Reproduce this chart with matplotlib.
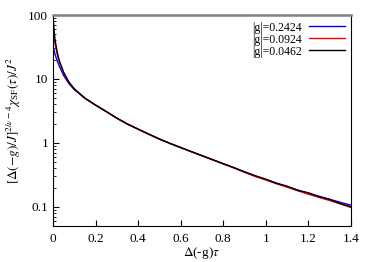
import numpy as np
import matplotlib
matplotlib.use('Agg')
import matplotlib.pyplot as plt

plt.rcParams['font.family'] = ['Liberation Serif', 'DejaVu Serif']
plt.rcParams['mathtext.fontset'] = 'stix'

# tau values, shared by the three curves
tau = [0.0, 0.005, 0.01, 0.02, 0.03, 0.05, 0.075, 0.1, 0.15, 0.2, 0.25, 0.3,
       0.35, 0.4, 0.45, 0.5, 0.55, 0.6, 0.65, 0.7, 0.75, 0.8, 0.85, 0.9, 0.95,
       1.0, 1.05, 1.1, 1.15, 1.2, 1.25, 1.3, 1.35, 1.4]
chi_2424 = [33, 28, 24, 19, 15.8, 11.3, 8.4, 6.8, 4.95, 3.88, 3.08, 2.42,
            1.96, 1.63, 1.36, 1.14, 0.975, 0.84, 0.724, 0.627, 0.543, 0.47,
            0.407, 0.35, 0.302, 0.267, 0.235, 0.207, 0.183, 0.163, 0.146,
            0.131, 0.117, 0.106]
chi_0924 = [62, 45, 35, 24, 18.5, 12.4, 8.8, 6.95, 5.0, 3.9, 3.1, 2.43,
            1.97, 1.64, 1.37, 1.15, 0.98, 0.845, 0.728, 0.628, 0.543, 0.468,
            0.404, 0.346, 0.297, 0.262, 0.229, 0.202, 0.178, 0.157, 0.14,
            0.125, 0.111, 0.097]
chi_0462 = [100, 58, 40, 26, 19, 12.7, 8.9, 7.0, 5.02, 3.9, 3.1, 2.44,
            1.97, 1.64, 1.37, 1.15, 0.98, 0.845, 0.73, 0.632, 0.546, 0.472,
            0.41, 0.352, 0.306, 0.27, 0.232, 0.21, 0.18, 0.165, 0.143,
            0.13, 0.112, 0.1]

fig = plt.figure(figsize=(3.74, 2.62), dpi=100)
ax = fig.add_axes([0.1417, 0.1374, 0.7968, 0.8053])

ax.plot(tau, chi_2424, color='blue', lw=1.0, label='|g|=0.2424')
ax.plot(tau, chi_0924, color='red', lw=1.0, label='|g|=0.0924')
ax.plot(tau, chi_0462, color='black', lw=1.0, label='|g|=0.0462')

ax.set_yscale('log')
ax.set_xlim(0, 1.4)
ax.set_ylim(0.05, 100)
ax.set_xticks([0, 0.2, 0.4, 0.6, 0.8, 1, 1.2, 1.4])
ax.set_xticklabels(['0', '0.2', '0.4', '0.6', '0.8', '1', '1.2', '1.4'])
ax.set_yticks([0.1, 1, 10, 100])
ax.set_yticklabels(['0.1', '1', '10', '100'])
ax.tick_params(direction='in', labelsize=9.5, length=4, top=False, right=False)
ax.tick_params(which='minor', direction='in', length=2, top=False, right=False)
ax.tick_params(axis='x', pad=5)

ax.spines['top'].set_color('gray')
ax.spines['top'].set_linewidth(1.8)

ax.set_xlabel(r'$\Delta$(-g)$\tau$', fontsize=9.5, labelpad=0)
ax.set_ylabel(r'$[\Delta(-g)/J]^{2/\nu-4}\chi_{\rm SF}(\tau)/J^2$', fontsize=9.5, labelpad=4)

ax.legend(loc='upper right', frameon=False, markerfirst=False, fontsize=8.5,
          labelspacing=0.0, handlelength=3.0, handletextpad=0.6,
          borderaxespad=0.15)

fig.savefig('out.png', dpi=100)
